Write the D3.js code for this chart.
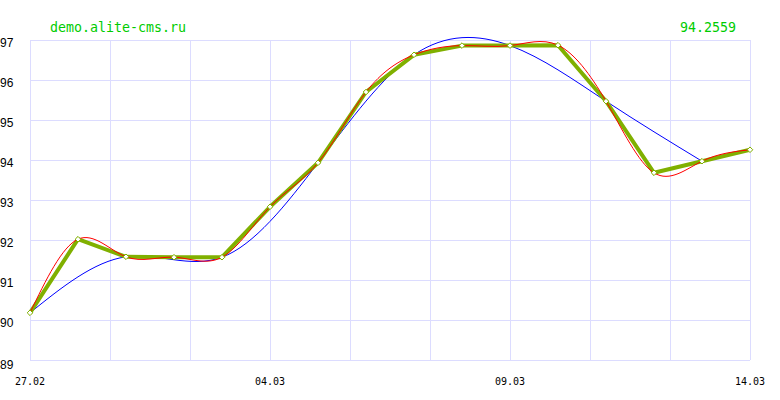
<!DOCTYPE html>
<html>
<head>
<meta charset="utf-8">
<script src="https://cdn.jsdelivr.net/npm/d3@7"></script>
<style>
  body { margin: 0; background: #fff; }
</style>
</head>
<body>
<svg id="chart" width="780" height="400"></svg>
<script>
// dates of each point
const dates = ["27.02", "28.02", "01.03", "02.03", "03.03", "04.03", "05.03", "06.03",
  "07.03", "08.03", "09.03", "10.03", "11.03", "12.03", "13.03", "14.03"];
// price values
const values = [90.18, 92.02, 91.58, 91.57, 91.57, 92.83, 93.93, 95.70,
  96.63, 96.86, 96.86, 96.87, 95.47, 93.68, 93.97, 94.2559];
// points used by the blue smoothed line
const blueIdx = [0, 2, 4, 6, 8, 10, 12, 14];
const blueTail = [14, 15];
const yTicks = [89, 90, 91, 92, 93, 94, 95, 96, 97];
const xLabelIdx = [0, 5, 10, 15];
const siteTitle = "demo.alite-cms.ru";

const svg = d3.select("#chart");
const margin = { top: 40, right: 30, bottom: 40, left: 30 };
const width = 780, height = 400;
const mono = "'DejaVu Sans Mono', 'Liberation Mono', monospace";

const x = d3.scaleLinear().domain([0, dates.length - 1]).range([margin.left, width - margin.right]);
const y = d3.scaleLinear().domain([89, 97]).range([height - margin.bottom, margin.top]);
// vertical grid is 9 equal columns, not tied to the points
const gx = d3.scaleLinear().domain([0, 9]).range([margin.left, width - margin.right]);

// grid
const grid = svg.append("g").attr("stroke", "#dcdcff").attr("stroke-width", 1).attr("shape-rendering", "crispEdges");
grid.selectAll("line.h").data(yTicks).join("line")
  .attr("x1", margin.left).attr("x2", width - margin.right)
  .attr("y1", d => y(d) + 0.5).attr("y2", d => y(d) + 0.5);
grid.selectAll("line.v").data(d3.range(10)).join("line")
  .attr("x1", d => gx(d) + 0.5).attr("x2", d => gx(d) + 0.5)
  .attr("y1", y(97)).attr("y2", y(89));

// y labels
svg.append("g").selectAll("text").data(yTicks).join("text")
  .attr("x", 0).attr("y", d => y(d) + (d === 89 ? 9 : 7))
  .attr("font-family", "'Liberation Sans', Arial, sans-serif")
  .attr("font-size", 12).attr("fill", "#000")
  .text(d => d);

// x labels
svg.append("g").selectAll("text").data(xLabelIdx).join("text")
  .attr("x", i => x(i)).attr("y", 385)
  .attr("text-anchor", "middle")
  .attr("font-family", mono)
  .attr("font-size", 10).attr("fill", "#000")
  .text(i => dates[i]);

// header texts
svg.append("text").attr("x", 50).attr("y", 32)
  .attr("font-family", mono).attr("font-size", 13.3)
  .attr("fill", "#00cc00").text(siteTitle);
svg.append("text").attr("x", 736).attr("y", 32).attr("text-anchor", "end")
  .attr("font-family", mono).attr("font-size", 13.3)
  .attr("fill", "#00cc00").text(values[values.length - 1]);

const pts = values.map((v, i) => [i, v]);

// blue smoothed line
const blueLine = d3.line().x(d => x(d[0])).y(d => y(d[1])).curve(d3.curveNatural);
svg.append("path").datum(blueIdx.map(i => pts[i]))
  .attr("d", blueLine).attr("fill", "none").attr("stroke", "#0000ff").attr("stroke-width", 1);
svg.append("path").datum(blueTail.map(i => pts[i]))
  .attr("d", blueLine.curve(d3.curveLinear)).attr("fill", "none").attr("stroke", "#0000ff").attr("stroke-width", 1);

// green thick line
const lin = d3.line().x(d => x(d[0])).y(d => y(d[1]));
svg.append("path").datum(pts)
  .attr("d", lin).attr("fill", "none").attr("stroke", "#80b000").attr("stroke-width", 4)
  .attr("stroke-linejoin", "round");

// red spline
const red = d3.line().x(d => x(d[0])).y(d => y(d[1])).curve(d3.curveNatural);
svg.append("path").datum(pts)
  .attr("d", red).attr("fill", "none").attr("stroke", "#ff0000").attr("stroke-width", 1);

// markers
svg.append("g").selectAll("path").data(pts).join("path")
  .attr("transform", d => `translate(${x(d[0])},${y(d[1])})`)
  .attr("d", d3.symbol(d3.symbolDiamond2, 20))
  .attr("fill", "#fff").attr("stroke", "#80b000").attr("stroke-width", 1);
</script>
</body>
</html>
